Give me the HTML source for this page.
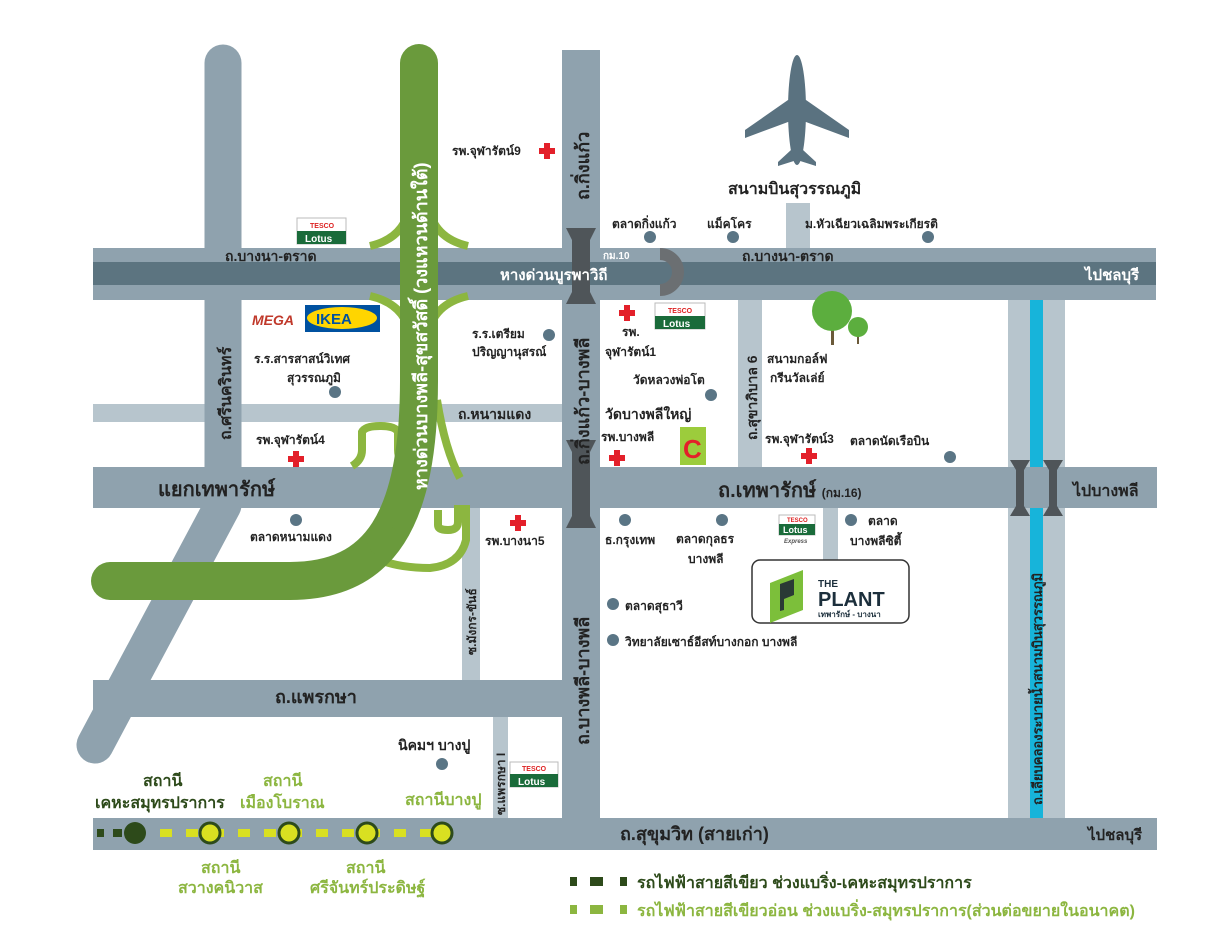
<!DOCTYPE html>
<html><head><meta charset="utf-8"><style>
html,body{margin:0;padding:0;background:#fff}
svg{display:block}
text{font-family:"Liberation Sans","Noto Sans CJK SC",sans-serif;font-weight:bold}
</style></head><body>
<svg width="1206" height="948" viewBox="0 0 1206 948" xmlns="http://www.w3.org/2000/svg">
<rect width="1206" height="948" fill="#fff"/>
<rect x="93" y="404" width="470" height="18" fill="#b7c5cd"/>
<rect x="738" y="300" width="24" height="167" fill="#b7c5cd"/>
<rect x="462" y="508" width="18" height="172" fill="#b7c5cd"/>
<rect x="493" y="717" width="15" height="101" fill="#b7c5cd"/>
<rect x="786" y="203" width="24" height="45" fill="#b7c5cd"/>
<rect x="823" y="508" width="15" height="52" fill="#b7c5cd"/>
<rect x="1008" y="300" width="57" height="518" fill="#b7c5cd"/>
<rect x="1030" y="300" width="13" height="518" fill="#17b4da"/>
<path d="M223,63 L223,505 L95,745" stroke="#8fa2ae" stroke-width="37" fill="none" stroke-linecap="round" stroke-linejoin="round"/>
<rect x="562" y="50" width="38" height="768" fill="#8fa2ae"/>
<rect x="93" y="248" width="1063" height="52" fill="#8fa2ae"/>
<rect x="93" y="262" width="1063" height="23" fill="#5c7480"/>
<rect x="93" y="467" width="1064" height="41" fill="#8fa2ae"/>
<rect x="93" y="680" width="469" height="37" fill="#8fa2ae"/>
<rect x="93" y="818" width="1064" height="32" fill="#8fa2ae"/>
<path d="M566,228 L572,240 L572,292 L566,304 L596,304 L590,292 L590,240 L596,228Z" fill="#4f5559"/>
<path d="M566,440 L572,452 L572,516 L566,528 L596,528 L590,516 L590,452 L596,440Z" fill="#4f5559"/>
<path d="M1010,460 L1016,470 L1016,506 L1010,516 L1030,516 L1024,506 L1024,470 L1030,460Z" fill="#4f5559"/>
<path d="M1043,460 L1049,470 L1049,506 L1043,516 L1063,516 L1057,506 L1057,470 L1063,460Z" fill="#4f5559"/>
<path d="M660,254 A18,18 0 0 1 660,290" stroke="#6b6f72" stroke-width="12" fill="none"/>
<g stroke="#8cb640" stroke-width="8" fill="none">
<path d="M370,246 Q405,238 410,205"/><path d="M468,246 Q433,238 428,205"/>
<path d="M370,296 Q405,304 410,335"/><path d="M468,296 Q433,304 428,335"/>
<path d="M352,466 Q362,460 362,450 L362,432 Q365,426 380,426 Q395,426 398,432 L398,450 Q398,462 410,466"/>
<path d="M437,400 Q445,450 460,478"/>
<path d="M438,510 L438,525 Q438,530 448,530 Q458,530 458,522 L458,505"/>
<path d="M466,505 L466,540 Q460,565 430,568 Q400,568 380,560"/>
</g>
<path d="M419,63 L419,380 C419,520 380,581 290,581 L110,581" stroke="#6a9a3c" stroke-width="38" fill="none" stroke-linecap="round"/>
<circle cx="383" cy="540" r="16" fill="#6a9a3c"/>
<text transform="translate(427,490) rotate(-90)" font-size="18" fill="#fff">หางด่วนบางพลี-สุขสวัสดิ์ (วงแหวนด้านใต้)</text>
<text transform="translate(589,200) rotate(-90)" font-size="18" fill="#222">ถ.กิ่งแก้ว</text>
<text transform="translate(589,465) rotate(-90)" font-size="18" fill="#222">ถ.กิ่งแก้ว-บางพลี</text>
<text transform="translate(589,745) rotate(-90)" font-size="18" fill="#222">ถ.บางพลี-บางพลี</text>
<text transform="translate(231,440) rotate(-90)" font-size="16" fill="#222">ถ.ศรีนครินทร์</text>
<text transform="translate(757,440) rotate(-90)" font-size="14" fill="#222">ถ.สุขาภิบาล 6</text>
<text transform="translate(476,655) rotate(-90)" font-size="12" fill="#222">ซ.มังกร-ขันธ์</text>
<text transform="translate(505,815) rotate(-90)" font-size="12" fill="#222">ซ.แพรกษา I</text>
<text transform="translate(1042,805) rotate(-90)" font-size="13" fill="#222">ถ.เลียบคลองระบายน้ำสนามบินสุวรรณภูมิ</text>
<text x="225" y="261" font-size="14" fill="#222">ถ.บางนา-ตราด</text>
<text x="742" y="261" font-size="14" fill="#222">ถ.บางนา-ตราด</text>
<text x="500" y="280" font-size="15" fill="#fff">หางด่วนบูรพาวิถี</text>
<text x="603" y="259" font-size="10" fill="#fff">กม.10</text>
<text x="1085" y="280" font-size="15" fill="#fff">ไปชลบุรี</text>
<text x="458" y="419" font-size="14" fill="#222">ถ.หนามแดง</text>
<text x="605" y="419" font-size="14" fill="#222">วัดบางพลีใหญ่</text>
<text x="158" y="496" font-size="20" fill="#222">แยกเทพารักษ์</text>
<text x="718" y="497" font-size="20" fill="#222">ถ.เทพารักษ์ <tspan font-size="12">(กม.16)</tspan></text>
<text x="1073" y="496" font-size="16" fill="#222">ไปบางพลี</text>
<text x="275" y="703" font-size="18" fill="#222">ถ.แพรกษา</text>
<text x="620" y="840" font-size="18" fill="#222">ถ.สุขุมวิท (สายเก่า)</text>
<text x="1088" y="840" font-size="15" fill="#222">ไปชลบุรี</text>
<g fill="#5a7280">
<ellipse cx="797" cy="110" rx="9" ry="55"/>
<path d="M788,100 L745,130 L745,138 L788,122 L806,122 L849,138 L849,130 L806,100Z"/>
<path d="M791,150 L778,162 L778,166 L797,160 L816,166 L816,162 L803,150Z"/>
</g>
<text x="728" y="194" font-size="16" fill="#222">สนามบินสุวรรณภูมิ</text>
<g fill="#5a7585">
<circle cx="650" cy="237" r="6"/><circle cx="733" cy="237" r="6"/><circle cx="928" cy="237" r="6"/>
<circle cx="549" cy="335" r="6"/><circle cx="335" cy="392" r="6"/><circle cx="711" cy="395" r="6"/>
<circle cx="950" cy="457" r="6"/><circle cx="296" cy="520" r="6"/><circle cx="625" cy="520" r="6"/>
<circle cx="722" cy="520" r="6"/><circle cx="851" cy="520" r="6"/><circle cx="613" cy="604" r="6"/>
<circle cx="613" cy="640" r="6"/><circle cx="442" cy="764" r="6"/>
</g>
<g font-size="12" fill="#222">
<text x="452" y="155">รพ.จุฬารัตน์9</text>
<text x="612" y="228">ตลาดกิ่งแก้ว</text>
<text x="707" y="228">แม็คโคร</text>
<text x="805" y="228">ม.หัวเฉียวเฉลิมพระเกียรติ</text>
<text x="472" y="338">ร.ร.เตรียม</text>
<text x="472" y="356">ปริญญานุสรณ์</text>
<text x="254" y="363">ร.ร.สารสาสน์วิเทศ</text>
<text x="287" y="382">สุวรรณภูมิ</text>
<text x="622" y="336">รพ.</text>
<text x="605" y="356">จุฬารัตน์1</text>
<text x="633" y="384">วัดหลวงพ่อโต</text>
<text x="767" y="363">สนามกอล์ฟ</text>
<text x="770" y="382">กรีนวัลเล่ย์</text>
<text x="256" y="444">รพ.จุฬารัตน์4</text>
<text x="601" y="441">รพ.บางพลี</text>
<text x="765" y="443">รพ.จุฬารัตน์3</text>
<text x="850" y="445">ตลาดนัดเรือบิน</text>
<text x="250" y="541">ตลาดหนามแดง</text>
<text x="485" y="545">รพ.บางนา5</text>
<text x="605" y="544">ธ.กรุงเทพ</text>
<text x="676" y="543">ตลาดกุลธร</text>
<text x="688" y="563">บางพลี</text>
<text x="868" y="525">ตลาด</text>
<text x="850" y="545">บางพลีซิตี้</text>
<text x="625" y="610">ตลาดสุธาวี</text>
<text x="625" y="646">วิทยาลัยเซาธ์อีสท์บางกอก บางพลี</text>
<text x="398" y="750" font-size="14">นิคมฯ บางปู</text>
</g>
<g fill="#e3202a">
<path d="M544,143h6v5h5v6h-5v5h-6v-5h-5v-6h5z"/>
<path d="M624,305h6v5h5v6h-5v5h-6v-5h-5v-6h5z"/>
<path d="M293,451h6v5h5v6h-5v5h-6v-5h-5v-6h5z"/>
<path d="M614,450h6v5h5v6h-5v5h-6v-5h-5v-6h5z"/>
<path d="M806,448h6v5h5v6h-5v5h-6v-5h-5v-6h5z"/>
<path d="M515,515h6v5h5v6h-5v5h-6v-5h-5v-6h5z"/>
</g>
<rect x="831" y="315" width="3" height="30" fill="#6b5a3a"/><rect x="857" y="330" width="2" height="14" fill="#6b5a3a"/>
<circle cx="832" cy="311" r="20" fill="#5cae3e"/><circle cx="858" cy="327" r="10" fill="#5cae3e"/>
<rect x="297" y="218" width="49" height="26" fill="#fff" stroke="#bbb"/><rect x="297" y="231" width="49" height="13" fill="#1a6b3a"/>
<text x="310" y="228" font-size="7" fill="#d22">TESCO</text><text x="305" y="242" font-size="10" fill="#fff" font-weight="normal" font-family="Liberation Serif">Lotus</text>
<rect x="655" y="303" width="50" height="26" fill="#fff" stroke="#bbb"/><rect x="655" y="316" width="50" height="13" fill="#1a6b3a"/>
<text x="668" y="313" font-size="7" fill="#d22">TESCO</text><text x="663" y="327" font-size="10" fill="#fff" font-weight="normal" font-family="Liberation Serif">Lotus</text>
<rect x="510" y="762" width="48" height="25" fill="#fff" stroke="#bbb"/><rect x="510" y="774" width="48" height="13" fill="#1a6b3a"/>
<text x="522" y="771" font-size="7" fill="#d22">TESCO</text><text x="518" y="785" font-size="10" fill="#fff" font-weight="normal" font-family="Liberation Serif">Lotus</text>
<rect x="779" y="515" width="36" height="20" fill="#fff" stroke="#bbb"/><rect x="779" y="524" width="36" height="11" fill="#1a6b3a"/>
<text x="787" y="522" font-size="6" fill="#d22">TESCO</text><text x="783" y="533" font-size="9" fill="#fff" font-weight="normal" font-family="Liberation Serif">Lotus</text>
<text x="784" y="543" font-size="6" fill="#555" font-style="italic" font-weight="normal">Express</text>
<text x="252" y="325" font-size="14" fill="#c0392b" font-style="italic">MEGA</text>
<rect x="305" y="305" width="75" height="27" fill="#0051a0"/><ellipse cx="342" cy="318" rx="35" ry="11" fill="#ffd500"/>
<text x="316" y="324" font-size="15" fill="#0051a0" font-weight="900">IKEA</text>
<rect x="680" y="427" width="26" height="38" fill="#9ccc3c"/>
<text x="683" y="458" font-size="26" fill="#e3202a">C</text>
<rect x="752" y="560" width="157" height="63" rx="8" fill="#fff" stroke="#333" stroke-width="1.5"/>
<path d="M770,583 L803,570 L803,610 L770,623Z" fill="#7cbf3a"/>
<path d="M780,584 L794,579 L794,595 L784,599 L784,610 L780,611Z" fill="#2a3a35"/>
<text x="818" y="587" font-size="10" fill="#1c2f3c">THE</text>
<text x="818" y="606" font-size="20" fill="#1c2f3c">PLANT</text>
<text x="818" y="617" font-size="8" fill="#1c2f3c">เทพารักษ์ - บางนา</text>
<rect x="97" y="829" width="7" height="8" fill="#2d4a1a"/><rect x="113" y="829" width="9" height="8" fill="#2d4a1a"/>
<circle cx="135" cy="833" r="11" fill="#2d4a1a"/>
<line x1="160" y1="833" x2="450" y2="833" stroke="#d9e021" stroke-width="8" stroke-dasharray="12,14"/>
<g fill="#d9e021" stroke="#2d4a1a" stroke-width="3">
<circle cx="210" cy="833" r="10"/><circle cx="289" cy="833" r="10"/><circle cx="367" cy="833" r="10"/><circle cx="442" cy="833" r="10"/>
</g>
<g font-size="16">
<text x="143" y="786" fill="#2d4a1a">สถานี</text><text x="95" y="808" fill="#2d4a1a">เคหะสมุทรปราการ</text>
<text x="263" y="786" fill="#8cb640">สถานี</text><text x="240" y="808" fill="#8cb640">เมืองโบราณ</text>
<text x="405" y="805" fill="#8cb640">สถานีบางปู</text>
<text x="201" y="873" fill="#8cb640">สถานี</text><text x="178" y="893" fill="#8cb640">สวางคนิวาส</text>
<text x="346" y="873" fill="#8cb640">สถานี</text><text x="310" y="893" fill="#8cb640">ศรีจันทร์ประดิษฐ์</text>
</g>
<rect x="570" y="877" width="7" height="9" fill="#2d4a1a"/><rect x="590" y="877" width="13" height="9" fill="#2d4a1a"/><rect x="620" y="877" width="7" height="9" fill="#2d4a1a"/>
<text x="637" y="888" font-size="16" fill="#2d4a1a">รถไฟฟ้าสายสีเขียว ช่วงแบริ่ง-เคหะสมุทรปราการ</text>
<rect x="570" y="905" width="7" height="9" fill="#8cb640"/><rect x="590" y="905" width="13" height="9" fill="#8cb640"/><rect x="620" y="905" width="7" height="9" fill="#8cb640"/>
<text x="637" y="916" font-size="16" fill="#8cb640">รถไฟฟ้าสายสีเขียวอ่อน ช่วงแบริ่ง-สมุทรปราการ(ส่วนต่อขยายในอนาคต)</text>
</svg>
</body></html>
